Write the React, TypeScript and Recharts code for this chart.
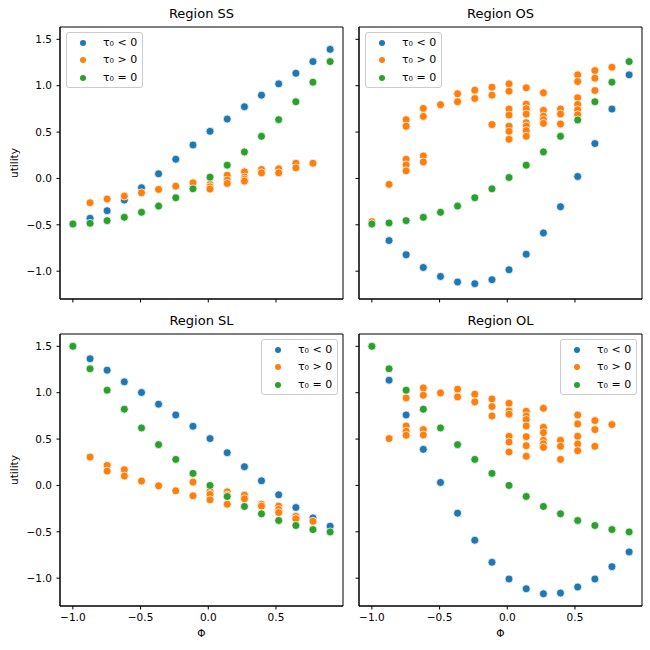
import React from "react";
import { ScatterChart, Scatter, XAxis, YAxis, ReferenceArea } from "recharts";

// Φ values shared by every panel
const phi = [-1, -0.873, -0.747, -0.62, -0.493, -0.367, -0.24, -0.113, 0.013, 0.14, 0.267, 0.393, 0.52, 0.647, 0.773, 0.9];

const xTicks = [-1, -0.5, 0, 0.5];
const yTicks = [-1, -0.5, 0, 0.5, 1, 1.5];

// Region SS
const ssNeg = [-0.49, -0.43, -0.348, -0.233, -0.1, 0.05, 0.207, 0.361, 0.508, 0.64, 0.773, 0.898, 1.02, 1.134, 1.26, 1.392];
const ssZero = [-0.491, -0.484, -0.455, -0.419, -0.365, -0.298, -0.208, -0.112, 0.014, 0.143, 0.286, 0.454, 0.634, 0.827, 1.038, 1.26];
const ssPos = [
  [], [-0.262], [-0.222], [-0.19], [-0.155], [-0.118], [-0.083], [-0.047],
  [-0.064, -0.09, -0.115], [0.035, -0.018, -0.054], [0.071, 0.014, -0.008, -0.029], [0.097, 0.06],
  [0.104, 0.06], [0.164, 0.114], [0.164], [],
];

// Region OS
const osNeg = [-0.49, -0.67, -0.824, -0.96, -1.057, -1.117, -1.135, -1.092, -0.985, -0.817, -0.588, -0.305, 0.021, 0.376, 0.748, 1.117];
const osZero = [-0.491, -0.48, -0.455, -0.419, -0.365, -0.298, -0.208, -0.112, 0.01, 0.143, 0.286, 0.454, 0.63, 0.827, 1.038, 1.26];
const osPos = [
  [-0.466], [-0.064], [0.634, 0.562, 0.207, 0.146, 0.082], [0.755, 0.669, 0.243, 0.178],
  [0.795], [0.913, 0.827], [0.952, 0.862], [0.984, 0.898, 0.58],
  [1.02, 0.941, 0.748, 0.683, 0.562, 0.508, 0.422],
  [0.977, 0.801, 0.752, 0.694, 0.601, 0.565, 0.516, 0.454],
  [0.924, 0.734, 0.672, 0.634, 0.594], [0.748, 0.694, 0.586],
  [1.117, 1.045, 0.87, 0.798, 0.741, 0.687], [1.163, 1.081, 0.948], [1.199], [],
];

// Region SL
const slNeg = [1.5, 1.366, 1.243, 1.117, 1.002, 0.876, 0.76, 0.638, 0.505, 0.353, 0.202, 0.05, -0.101, -0.238, -0.35, -0.44];
const slZero = [1.5, 1.258, 1.027, 0.822, 0.62, 0.44, 0.281, 0.13, 0.0, -0.119, -0.227, -0.306, -0.378, -0.432, -0.476, -0.501];
const slPos = [
  [], [0.306], [0.216, 0.155], [0.17, 0.101], [0.047], [-0.004], [-0.058], [0.036, -0.112],
  [-0.061, -0.097, -0.155], [-0.069, -0.104, -0.202], [-0.104, -0.144], [-0.202, -0.223],
  [-0.223, -0.259, -0.292], [-0.332, -0.36], [-0.386], [],
];

// Region OL
const olNeg = [1.5, 1.135, 0.76, 0.389, 0.032, -0.299, -0.591, -0.829, -1.009, -1.114, -1.168, -1.16, -1.095, -1.009, -0.876, -0.717];
const olZero = [1.5, 1.258, 1.027, 0.822, 0.62, 0.44, 0.281, 0.13, 0.0, -0.119, -0.227, -0.306, -0.378, -0.432, -0.476, -0.501];
const olPos = [
  [], [0.505], [0.944, 0.641, 0.584, 0.541], [1.052, 0.973, 0.602, 0.544], [0.998], [1.038, 0.955],
  [0.984, 0.901], [0.933, 0.851, 0.749], [0.886, 0.803, 0.768, 0.53, 0.468, 0.36],
  [0.8, 0.749, 0.71, 0.641, 0.526, 0.429, 0.314], [0.832, 0.627, 0.57, 0.486, 0.45, 0.411],
  [0.486, 0.422, 0.281], [0.76, 0.663, 0.53, 0.447, 0.375], [0.699, 0.602, 0.422], [0.656], [],
];

const BLUE = "#1f77b4";
const ORANGE = "#ff7f0e";
const GREEN = "#2ca02c";

const X_DOMAIN = [-1.095, 0.995];
const Y_DOMAIN = [-1.3, 1.633];

const PLOT_W = 283;
const PLOT_H = 272;

const single = (ys: number[]) => ys.map((y, i) => ({ x: phi[i], y }));
const multi = (yss: number[][]) => yss.flatMap((ys, i) => ys.map((y) => ({ x: phi[i], y })));

const fmt = (v: number) => (v < 0 ? "\u2212" : "") + Math.abs(v).toFixed(1);

const dot = (color: string) => (props: any) => (
  <circle cx={props.cx} cy={props.cy} r={4} fill={color} stroke="#fff" strokeWidth={0.75} />
);

const noTick = () => <g />;
const tickStyle = { fill: "#000", fontSize: 10.5, fontFamily: "DejaVu Sans" };

const panels = [
  { title: "Region SS", left: 60, top: 27, neg: ssNeg, pos: ssPos, zero: ssZero, showX: false, showY: true, legend: { left: 66, top: 32 } },
  { title: "Region OS", left: 359, top: 27, neg: osNeg, pos: osPos, zero: osZero, showX: false, showY: false, legend: { left: 365, top: 32 } },
  { title: "Region SL", left: 60, top: 334, neg: slNeg, pos: slPos, zero: slZero, showX: true, showY: true, legend: { left: 261, top: 339 } },
  { title: "Region OL", left: 359, top: 334, neg: olNeg, pos: olPos, zero: olZero, showX: true, showY: false, legend: { left: 560, top: 339 } },
];

const legendItems = [
  { label: "τ₀ < 0", color: BLUE },
  { label: "τ₀ > 0", color: ORANGE },
  { label: "τ₀ = 0", color: GREEN },
];

const Legend = ({ left, top }: { left: number; top: number }) => (
  <div
    style={{
      position: "absolute",
      left,
      top,
      width: 77,
      height: 56,
      border: "1px solid #ccc",
      borderRadius: 3,
      background: "rgba(255,255,255,0.8)",
      boxSizing: "border-box",
    }}
  >
    {legendItems.map((it, i) => (
      <div key={it.label} style={{ position: "absolute", left: 0, top: 3 + i * 17.3, height: 14, width: 76 }}>
        <div
          style={{
            position: "absolute",
            left: 12.5,
            top: 4,
            width: 6,
            height: 6,
            borderRadius: 3,
            background: it.color,
          }}
        />
        <div style={{ position: "absolute", left: 36, top: 0, fontSize: 11, lineHeight: "14px", color: "#000", whiteSpace: "nowrap" }}>
          {it.label}
        </div>
      </div>
    ))}
  </div>
);

const Panel = ({ p }: { p: (typeof panels)[number] }) => (
  <div style={{ position: "absolute", left: p.left - 60, top: p.top - 27 }}>
    <ScatterChart width={60 + PLOT_W + 6} height={27 + PLOT_H + 45} margin={{ top: 27, right: 6, bottom: 15, left: 0 }}>
      <XAxis
        type="number"
        dataKey="x"
        domain={X_DOMAIN}
        ticks={xTicks}
        interval={0}
        allowDataOverflow
        height={30}
        tickSize={3.5}
        tickMargin={4}
        stroke="#000"
        tick={p.showX ? tickStyle : noTick}
        tickFormatter={fmt}
      />
      <YAxis
        type="number"
        dataKey="y"
        domain={Y_DOMAIN}
        ticks={yTicks}
        interval={0}
        allowDataOverflow
        width={60}
        tickSize={3.5}
        tickMargin={4.5}
        stroke="#000"
        tick={p.showY ? tickStyle : noTick}
        tickFormatter={fmt}
      />
      <ReferenceArea
        x1={X_DOMAIN[0]}
        x2={X_DOMAIN[1]}
        y1={Y_DOMAIN[0]}
        y2={Y_DOMAIN[1]}
        fill="none"
        stroke="#000"
        strokeWidth={1}
        strokeOpacity={1}
      />
      <Scatter data={single(p.neg)} shape={dot(BLUE)} isAnimationActive={false} />
      <Scatter data={multi(p.pos)} shape={dot(ORANGE)} isAnimationActive={false} />
      <Scatter data={single(p.zero)} shape={dot(GREEN)} isAnimationActive={false} />
    </ScatterChart>
  </div>
);

export default function App() {
  return (
    <div
      style={{
        position: "absolute",
        left: 0,
        top: 0,
        width: 650,
        height: 650,
        background: "#fff",
        fontFamily: "DejaVu Sans",
        color: "#000",
      }}
    >
      {panels.map((p) => (
        <Panel key={p.title} p={p} />
      ))}
      {panels.map((p) => (
        <React.Fragment key={p.title + "-text"}>
          <div
            style={{
              position: "absolute",
              left: p.left,
              top: p.top - 20,
              width: PLOT_W,
              textAlign: "center",
              fontSize: 13,
              lineHeight: "14px",
            }}
          >
            {p.title}
          </div>
          <Legend left={p.legend.left} top={p.legend.top} />
        </React.Fragment>
      ))}
      {[163, 470].map((cy) => (
        <div
          key={cy}
          style={{
            position: "absolute",
            left: 14,
            top: cy,
            fontSize: 10.5,
            transform: "translate(-50%, -50%) rotate(-90deg)",
            whiteSpace: "nowrap",
          }}
        >
          utility
        </div>
      ))}
      {[60 + PLOT_W / 2, 359 + PLOT_W / 2].map((cx) => (
        <div
          key={cx}
          style={{
            position: "absolute",
            left: cx,
            top: 633,
            fontSize: 10.5,
            transform: "translate(-50%, -50%)",
          }}
        >
          Φ
        </div>
      ))}
    </div>
  );
}
